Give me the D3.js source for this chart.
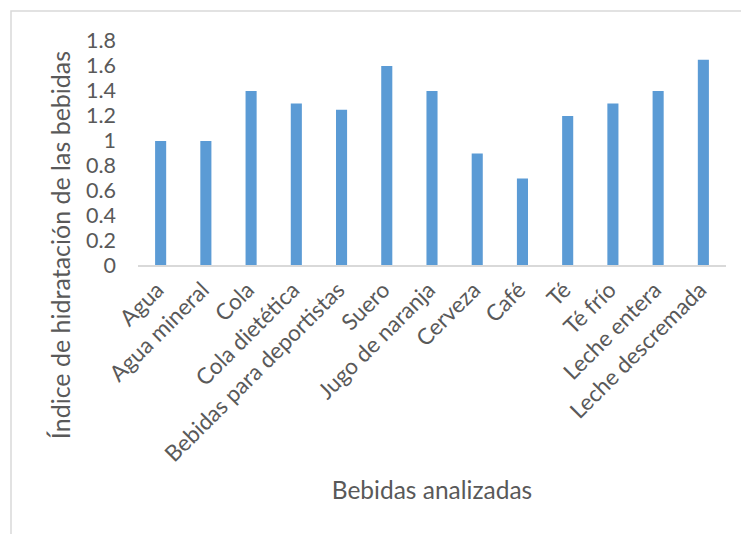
<!DOCTYPE html>
<html>
<head>
<meta charset="utf-8">
<script src="https://cdn.jsdelivr.net/npm/d3@7"></script>
<style>
  html, body { margin: 0; padding: 0; background: #fff; }
  svg { display: block; }
  text { font-family: Lato, "Open Sans", sans-serif; fill: #595959; }
</style>
</head>
<body>
<svg id="chart" width="741" height="534"></svg>
<script>
// Hydration index per beverage
const bebidas = [
  "Agua", "Agua mineral", "Cola", "Cola dietética", "Bebidas para deportistas",
  "Suero", "Jugo de naranja", "Cerveza", "Café", "Té", "Té frío",
  "Leche entera", "Leche descremada"
];
const indice = [1, 1, 1.4, 1.3, 1.25, 1.6, 1.4, 0.9, 0.7, 1.2, 1.3, 1.4, 1.65];
const yTicks = [0, 0.2, 0.4, 0.6, 0.8, 1, 1.2, 1.4, 1.6, 1.8];
const yTitle = "Índice de hidratación de las bebidas";
const xTitle = "Bebidas analizadas";

const svg = d3.select("#chart");
const W = 741, H = 534;
const plot = { left: 138, right: 726, top: 41, bottom: 266 };

// chart frame (only top and left edges fall inside the window)
svg.append("rect")
  .attr("x", 11).attr("y", 11)
  .attr("width", W + 20).attr("height", H + 20)
  .attr("fill", "none")
  .attr("stroke", "#D9D9D9")
  .attr("stroke-width", 1.5);

const x = d3.scaleBand()
  .domain(bebidas)
  .range([plot.left, plot.right])
  .paddingInner(0.755)
  .paddingOuter(0.378);

const y = d3.scaleLinear()
  .domain([0, 1.8])
  .range([plot.bottom, plot.top]);

// bars
svg.append("g")
  .selectAll("rect")
  .data(bebidas)
  .join("rect")
  .attr("x", d => x(d))
  .attr("width", x.bandwidth())
  .attr("y", (d, i) => y(indice[i]))
  .attr("height", (d, i) => y(0) - y(indice[i]))
  .attr("fill", "#5B9BD5");

// y axis labels (no axis line)
const yAxis = svg.append("g")
  .attr("transform", `translate(${plot.left - 22},0)`)
  .call(d3.axisLeft(y).tickValues(yTicks).tickSize(0).tickPadding(0)
    .tickFormat(d => String(+d.toFixed(1))));
yAxis.select(".domain").remove();
yAxis.selectAll("text")
  .attr("font-family", "Lato, 'Open Sans', sans-serif")
  .attr("font-size", 21.5)
  .attr("fill", "#595959");

// x axis line
svg.append("line")
  .attr("x1", plot.left).attr("x2", plot.right)
  .attr("y1", y(0)).attr("y2", y(0))
  .attr("stroke", "#D9D9D9")
  .attr("stroke-width", 2);

// rotated category labels
const xAxis = svg.append("g")
  .attr("transform", `translate(0,${plot.bottom})`)
  .call(d3.axisBottom(x).tickSize(0).tickPadding(0));
xAxis.select(".domain").remove();
xAxis.selectAll("text")
  .attr("font-family", "Lato, 'Open Sans', sans-serif")
  .attr("font-size", 22.5)
  .attr("fill", "#595959")
  .attr("text-anchor", "end")
  .attr("dy", "0.35em")
  .attr("transform", "translate(-1,20) rotate(-45)");

// axis titles
svg.append("text")
  .attr("x", (plot.left + plot.right) / 2)
  .attr("y", 499)
  .attr("text-anchor", "middle")
  .attr("font-size", 24.5)
  .text(xTitle);

svg.append("text")
  .attr("transform", "translate(70,245) rotate(-90)")
  .attr("text-anchor", "middle")
  .attr("font-size", 25)
  .text(yTitle);
</script>
</body>
</html>
